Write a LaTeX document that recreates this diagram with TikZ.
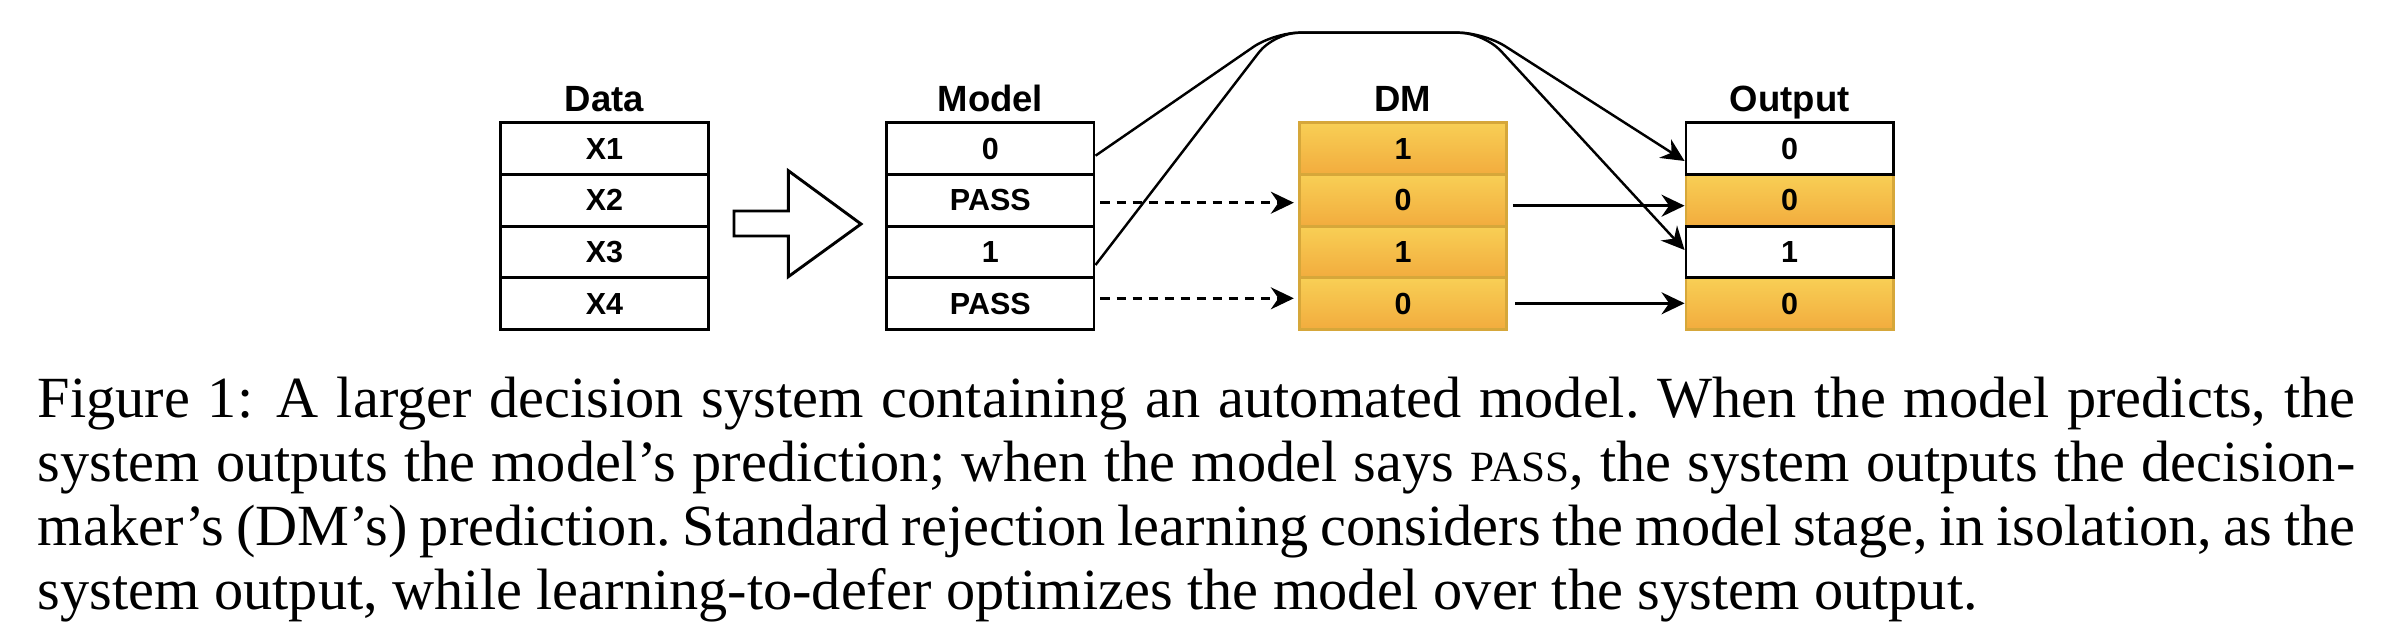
\documentclass[tikz,border=0pt]{standalone}
\usepackage{fontspec}
\setmainfont{Liberation Serif}
\newfontfamily\hv{Liberation Sans}
\usetikzlibrary{arrows.meta,calc}
\definecolor{orTop}{HTML}{F8CF55}
\definecolor{orBot}{HTML}{F2AC3E}
\definecolor{orLine}{HTML}{D6A73A}
\begin{document}
\frenchspacing
\begin{tikzpicture}[x=0.17153pt,y=-0.17153pt,
  cell/.style={rectangle,draw=black,fill=white,line width=0.5pt,
    minimum width=35.56pt,minimum height=8.868pt,inner sep=0pt,
    font=\hv\bfseries\fontsize{5.23pt}{6pt}\selectfont},
  ocell/.style={cell,draw=orLine,top color=orTop,bottom color=orBot},
  head/.style={anchor=base,inner sep=0pt,font=\hv\bfseries\fontsize{6.26pt}{7pt}\selectfont},
  tipped/.style={-{Stealth[length=3.95pt,width=3.77pt,inset=1.3pt]}},
  link/.style={tipped,line width=0.42pt,rounded corners=4.29pt},
  dashlink/.style={tipped,line width=0.45pt,dash pattern=on 1.55pt off 1.2pt},
  solidlink/.style={tipped,line width=0.5pt},
  capline/.style={anchor=base west,inner sep=0pt}
]
\fill[white] (0,0) rectangle (2394,634);
\useasboundingbox (0,0) rectangle (2394,634);

% headers
\node[head] (hdata) at (604.5,111.7) {Data};
\node[head] (hmodel) at (990.35,111.7) {Model};
\node[head] (hdm) at (1402.95,111.7) {DM};
\node[head] (hout) at (1789.65,111.7) {Output};

% Data column
\node[cell] (x1) at (604.5,148.55) {X1};
\node[cell] (x2) at (604.5,200.25) {X2};
\node[cell] (x3) at (604.5,251.95) {X3};
\node[cell] (x4) at (604.5,303.65) {X4};

% Model column
\node[cell] (m1) at (990.35,148.55) {0};
\node[cell] (m2) at (990.35,200.25) {PASS};
\node[cell] (m3) at (990.35,251.95) {1};
\node[cell] (m4) at (990.35,303.65) {PASS};

% DM column
\node[ocell] (d1) at (1402.95,148.55) {1};
\node[ocell] (d2) at (1402.95,200.25) {0};
\node[ocell] (d3) at (1402.95,251.95) {1};
\node[ocell] (d4) at (1402.95,303.65) {0};

% Output column
\node[ocell] (o2) at (1789.65,200.25) {0};
\node[ocell] (o4) at (1789.65,303.65) {0};
\node[cell] (o1) at (1789.65,148.55) {0};
\node[cell] (o3) at (1789.65,251.95) {1};

% block arrow
\draw[line width=0.5pt,fill=white,line join=miter]
  (734,211) -- (788.3,211) -- (788.3,170.7) -- (861,224) -- (788.3,276.7)
  -- (788.3,236) -- (734,236) -- cycle;

% waypoints of the two model-to-output edges
\coordinate (wl) at (1274,32.7);
\coordinate (wr) at (1484,32.7);

\draw[link] ($(m1.east)+(0,7.15)$) -- (wl) -- (wr) -- ($(o1.west)+(0,12.45)$);
\draw[link] ($(m3.east)+(0,13.05)$) -- (wl) -- (wr) -- ($(o3.west)+(0,-1.95)$);

% PASS -> DM
\draw[dashlink] ($(m2.east)+(5,2.45)$) -- ($(d2.west)+(-4,2.45)$);
\draw[dashlink] ($(m4.east)+(5,-5.35)$) -- ($(d4.west)+(-4,-5.35)$);

% DM -> Output
\draw[solidlink] ($(d2.east)+(4.7,5.45)$) -- ($(o2.west)+(0,5.45)$);
\draw[solidlink] ($(d4.east)+(7,-0.35)$) -- ($(o4.west)+(0,-0.35)$);

% caption
\node[capline] (cap1) at (36.7,417.3) {\makebox[397.5pt][s]{Figure 1:\hspace{0.1em} A larger decision system containing an automated model. When the model predicts, the}};
\node[capline] (cap2) at (36.7,481.4) {\makebox[397.5pt][s]{system outputs the model’s prediction; when the model says {\fontsize{7.4pt}{11pt}\selectfont PASS}, the system outputs the decision-}};
\node[capline] (cap3) at (36.7,545.5) {\makebox[397.5pt][s]{maker’s (DM’s) prediction. Standard rejection learning considers the model stage, in isolation, as the}};
\node[capline] (cap4) at (36.7,609.6) {system output, while learning-to-defer optimizes the model over the system output.};
\end{tikzpicture}
\end{document}
